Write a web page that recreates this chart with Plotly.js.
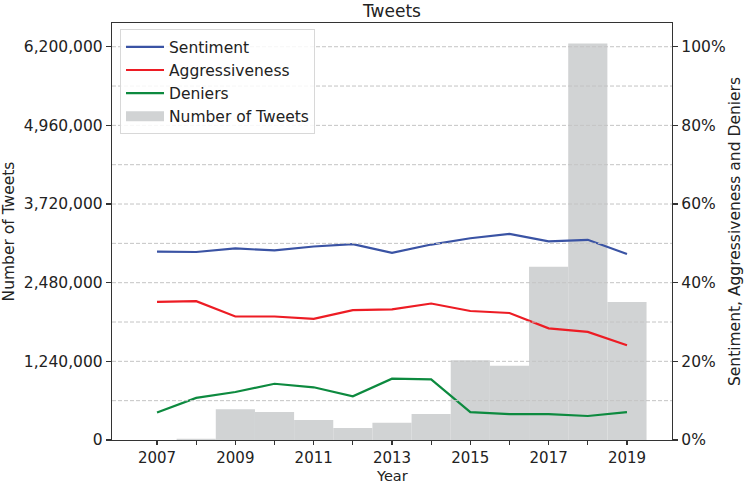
<!DOCTYPE html>
<html>
<head>
<meta charset="utf-8">
<script src="https://cdn.plot.ly/plotly-3.0.1.min.js"></script>
<style>html,body{margin:0;padding:0;background:#fff}#chart{width:744px;height:485px}</style>
</head>
<body>
<div id="chart"></div>
<script>
const years = [2007, 2008, 2009, 2010, 2011, 2012, 2013, 2014, 2015, 2016, 2017, 2018, 2019];
const tweetCounts = [1000, 20000, 484000, 441000, 315000, 189000, 273000, 410000, 1256000, 1171000, 2731000, 6250000, 2174000];
const sentiment = [0.479, 0.478, 0.487, 0.482, 0.492, 0.498, 0.476, 0.497, 0.513, 0.524, 0.505, 0.509, 0.473];
const aggressiveness = [0.351, 0.353, 0.314, 0.314, 0.308, 0.330, 0.332, 0.347, 0.328, 0.323, 0.284, 0.275, 0.241];
const deniers = [0.070, 0.107, 0.122, 0.143, 0.134, 0.111, 0.156, 0.154, 0.071, 0.066, 0.066, 0.061, 0.071];
const leftTicks = [0, 1240000, 2480000, 3720000, 4960000, 6200000];
const rightTicks = [0, 0.2, 0.4, 0.6, 0.8, 1.0];
const xTickText = years.map(y => (y % 2 === 1 ? String(y) : ''));

const FONT = 'DejaVu Sans, sans-serif';
const TXT = '#222222';
const FS = 15.5;
const BAR_COLOR = '#d1d3d4';

const traces = [
  {type: 'bar', x: years, y: tweetCounts, width: 1, name: 'Number of Tweets',
   marker: {color: BAR_COLOR, line: {width: 0}}, yaxis: 'y', showlegend: false, hoverinfo: 'x+y'},
  {type: 'scatter', mode: 'lines', x: years, y: sentiment, name: 'Sentiment',
   line: {color: '#3a53a4', width: 2.2}, yaxis: 'y2', legendrank: 1},
  {type: 'scatter', mode: 'lines', x: years, y: aggressiveness, name: 'Aggressiveness',
   line: {color: '#ed1c24', width: 2.2}, yaxis: 'y2', legendrank: 2},
  {type: 'scatter', mode: 'lines', x: years, y: deniers, name: 'Deniers',
   line: {color: '#0d8a3f', width: 2.2}, yaxis: 'y2', legendrank: 3},
  // legend swatch for the bars (wide rectangle, as in the reference legend)
  {type: 'scatter', mode: 'lines', x: [null], y: [null], name: 'Number of Tweets',
   line: {color: BAR_COLOR, width: 10}, yaxis: 'y2', legendrank: 4, hoverinfo: 'skip'}
];

const gridShapes = [];
for (let i = 1; i <= 10; i++) {
  gridShapes.push({type: 'line', xref: 'paper', x0: 0, x1: 1, yref: 'y2', y0: i / 10, y1: i / 10,
    line: {color: '#c4c4c4', width: 1, dash: '4px,2px'}, layer: 'above'});
}

const layout = {
  width: 744, height: 485,
  margin: {l: 112, r: 72, t: 23, b: 45},
  paper_bgcolor: '#ffffff', plot_bgcolor: '#ffffff',
  font: {family: FONT, size: FS, color: TXT},
  showlegend: true,
  title: {text: 'Tweets', font: {family: FONT, size: 17, color: TXT},
          x: 0.5, xref: 'paper', xanchor: 'center', y: 0.978, yref: 'container', yanchor: 'middle'},
  xaxis: {
    range: [2005.85, 2020.15], tickvals: years, ticktext: xTickText,
    ticks: 'outside', ticklen: 4, tickwidth: 1.1, tickcolor: '#333',
    showgrid: false, zeroline: false,
    showline: true, linecolor: '#333', linewidth: 1.2, mirror: true,
    tickfont: {size: 15, color: TXT}
  },
  yaxis: {
    range: [0, 6573500], tickvals: leftTicks, tickformat: ',d',
    ticks: 'outside', ticklen: 5, tickwidth: 1.1, tickcolor: '#333',
    showgrid: false, zeroline: false,
    showline: true, linecolor: '#333', linewidth: 1.2,
    tickfont: {size: FS, color: TXT},
    title: {text: 'Number of Tweets', font: {size: FS, color: TXT}, standoff: 5}
  },
  yaxis2: {
    overlaying: 'y', side: 'right', range: [0, 1.0603], tickvals: rightTicks, tickformat: '.0%',
    ticks: 'outside', ticklen: 5, tickwidth: 1.1, tickcolor: '#333',
    showgrid: false, zeroline: false,
    showline: true, linecolor: '#333', linewidth: 1.2,
    tickfont: {size: FS, color: TXT},
    title: {text: 'Sentiment, Aggressiveness and Deniers', font: {size: FS, color: TXT}, standoff: 7}
  },
  legend: {
    x: 0.0143, y: 0.985, xanchor: 'left', yanchor: 'top',
    bgcolor: 'rgba(255,255,255,0.85)', bordercolor: '#d8d8d8', borderwidth: 1,
    font: {size: FS, color: TXT}, itemwidth: 38, tracegroupgap: 0
  },
  annotations: [{
    text: 'Year', showarrow: false, xref: 'paper', x: 0.5, xanchor: 'center',
    yref: 'paper', y: -0.1079, yanchor: 'bottom', borderpad: 0,
    font: {family: FONT, size: 14.5, color: TXT}
  }],
  shapes: gridShapes
};

Plotly.newPlot('chart', traces, layout, {displayModeBar: false, staticPlot: true});
</script>
</body>
</html>
